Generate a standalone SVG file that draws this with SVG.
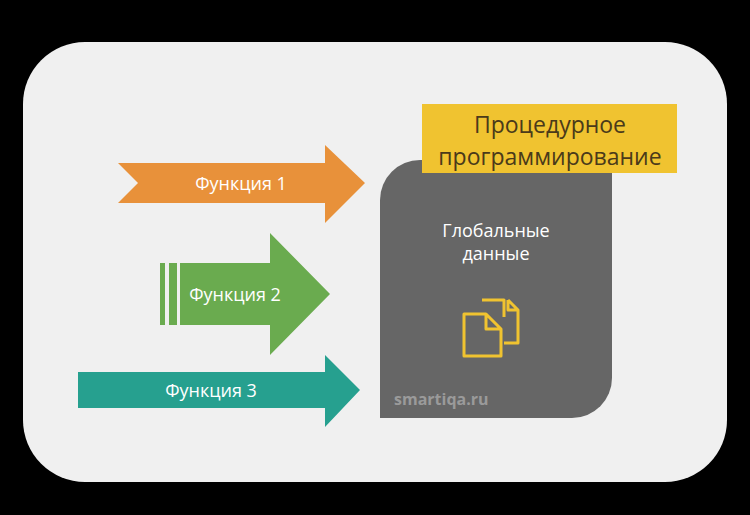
<svg xmlns="http://www.w3.org/2000/svg" width="750" height="515" viewBox="0 0 750 515">
<style>
text{font-family:"Open Sans","DejaVu Sans",sans-serif;}
.lbl{fill:#fff;font-size:18px;text-anchor:middle;}
.doc{fill:none;stroke:#F0C330;stroke-width:3;stroke-linejoin:round;}
</style>
<rect width="750" height="515" fill="#000"/>
<rect x="23" y="42" width="704" height="440" rx="62" fill="#F0F0F0"/>
<g id="connectors">
<g id="f1"><polygon points="118,163 325,163 325,145 365,183 325,223 325,203 118,203 138,183" fill="#E8913A"/><text class="lbl" x="241" y="190">Функция 1</text></g>
<g id="f2"><rect x="160" y="263" width="5" height="62" fill="#6AAB4F"/><rect x="169" y="263" width="8" height="62" fill="#6AAB4F"/><polygon points="180,263 270,263 270,233 330,294 270,355 270,325 180,325" fill="#6AAB4F"/><text class="lbl" x="235" y="301">Функция 2</text></g>
<g id="f3"><polygon points="78,372 325,372 325,355 360,390 325,427 325,408 78,408" fill="#26A08F"/><text class="lbl" x="211" y="397">Функция 3</text></g>
</g>
<g id="data">
<path d="M420,160 H612 V378 A40,40 0 0 1 572,418 H380 V200 A40,40 0 0 1 420,160 Z" fill="#666"/>
<text class="lbl" x="496" y="237" font-size="16">Глобальные</text>
<text class="lbl" x="496" y="260" font-size="16">данные</text>
<path class="doc" d="M504,317 V300 H482 M508,300 L518,310 V343 H504 M508,300 V310 H518"/>
<path class="doc" d="M464,314 H486 L501,329 V356 H464 Z M486,314 V329 H501"/>
<text x="394" y="405" font-size="16" font-weight="bold" fill="#9A9A9A">smartiqa.ru</text>
</g>
<g id="title">
<rect x="422" y="104" width="255" height="69" fill="#F0C330"/>
<text x="550" y="133" font-size="23" fill="#4A3A1A" text-anchor="middle">Процедурное</text>
<text x="550" y="165" font-size="23" fill="#4A3A1A" text-anchor="middle">программирование</text>
</g>
</svg>
